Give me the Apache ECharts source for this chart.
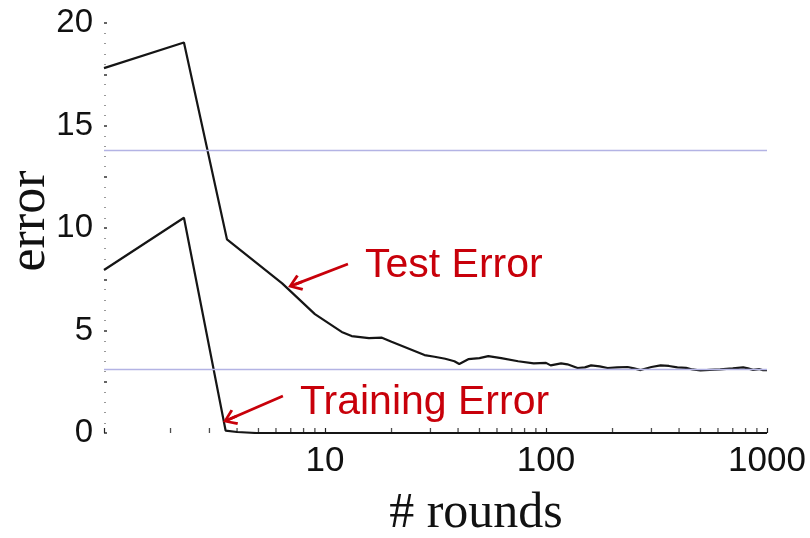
<!DOCTYPE html>
<html>
<head>
<meta charset="utf-8">
<script src="https://cdn.jsdelivr.net/npm/echarts@6/dist/echarts.min.js"></script>
<style>
html,body{margin:0;padding:0;background:#fff;}
#chart{width:810px;height:538px;}
</style>
</head>
<body>
<div id="chart"></div>
<script>
// ---- data ----
const testRounds = [1, 2.3, 3.6, 6.4, 9.0, 11.9, 13.2, 15.8, 18.1, 20, 28.2, 31.3, 35, 38.5, 40.5, 44.5, 50, 54.8, 62.7, 74.8, 88, 100, 105, 117, 125, 139, 150, 160, 175, 190, 210, 234, 250, 268, 300, 330, 360, 393, 430, 460, 500, 550, 614, 700, 780, 820, 865, 920, 960, 1000];
const testError  = [17.8, 19.05, 9.45, 7.3, 5.8, 4.93, 4.73, 4.63, 4.65, 4.45, 3.8, 3.72, 3.62, 3.5, 3.37, 3.6, 3.65, 3.75, 3.65, 3.5, 3.4, 3.42, 3.3, 3.4, 3.35, 3.17, 3.2, 3.3, 3.25, 3.17, 3.2, 3.22, 3.15, 3.07, 3.22, 3.3, 3.27, 3.2, 3.18, 3.1, 3.05, 3.08, 3.1, 3.15, 3.2, 3.15, 3.08, 3.12, 3.06, 3.07];
const trainRounds = [1, 2.3, 3.55, 4.0, 4.9, 1000];
const trainError  = [7.95, 10.5, 0.12, 0.05, 0, 0];
const refLevels = [13.8, 3.12];
const xMinorTicks = [2,3,4,5,6,7,8,9,20,30,40,50,60,70,80,90,200,300,400,500,600,700,800,900];
const xTickLabels = [10, 100, 1000];
const yTickLabels = [0, 5, 10, 15, 20];
const annTest  = {label: 'Test Error', from: [12.7, 8.24], to: [7.32, 7.25]};
const annTrain = {label: 'Training Error', from: [6.45, 1.8], to: [3.71, 0.68]};

const red = '#c8000a';
const arrowHead = 'path://M5,0 L10,8 L8.7,9.2 L5.8,4.3 L5.8,10 L4.2,10 L4.2,4.3 L1.3,9.2 L0,8 Z';

const chart = echarts.init(document.getElementById('chart'), null, {renderer: 'canvas'});
const zip = (a, b) => a.map((v, i) => [v, b[i]]);

chart.setOption({
  animation: false,
  backgroundColor: '#fff',
  grid: {left: 104, right: 43, top: 23, bottom: 105, containLabel: false},
  xAxis: {
    type: 'log', logBase: 10, min: 1, max: 1000,
    axisLine: {show: false},
    axisTick: {show: true, inside: true, length: 5, lineStyle: {color: '#222', width: 1.2}},
    splitLine: {show: false},
    axisLabel: {
      margin: 11, color: '#111', fontSize: 35, fontFamily: 'Liberation Sans',
      formatter: v => xTickLabels.includes(Math.round(v)) ? String(Math.round(v)) : ''
    }
  },
  yAxis: {
    type: 'value', min: 0, max: 20, interval: 2.5,
    axisLine: {show: false},
    axisTick: {show: true, inside: true, length: 3, lineStyle: {color: '#333', width: 1.5}},
    minorTick: {show: true, splitNumber: 5, length: 2, lineStyle: {color: '#999', width: 1.2}},
    splitLine: {show: false},
    axisLabel: {
      margin: 11, color: '#111', fontSize: 33, fontFamily: 'Liberation Sans',
      formatter: v => yTickLabels.includes(v) ? String(v) : ''
    }
  },
  series: [
    {
      name: 'reference levels', type: 'line', data: [], z: 1, silent: true,
      markLine: {
        silent: true, symbol: 'none', label: {show: false}, animation: false,
        lineStyle: {color: '#b3b3e4', type: 'solid', width: 1.3},
        data: refLevels.map(v => ({yAxis: v}))
      }
    },
    {
      name: 'x minor ticks', type: 'scatter', z: 2, silent: true,
      symbol: 'rect', symbolSize: [1.3, 5], symbolOffset: [0, -2.5],
      itemStyle: {color: '#222'},
      data: xMinorTicks.map(v => [v, 0])
    },
    {
      name: 'Test Error', type: 'line', z: 3, symbol: 'none', smooth: false,
      lineStyle: {color: '#151515', width: 2.2},
      data: zip(testRounds, testError)
    },
    {
      name: 'Training Error', type: 'line', z: 3, symbol: 'none', smooth: false,
      lineStyle: {color: '#151515', width: 2.2},
      data: zip(trainRounds, trainError)
    },
    {
      name: 'annotations', type: 'line', data: [], z: 4, silent: true,
      markLine: {
        silent: true, animation: false,
        symbol: ['none', arrowHead], symbolSize: [17, 15],
        label: {show: false},
        lineStyle: {color: red, type: 'solid', width: 2.7},
        data: [annTest, annTrain].map(a => [{coord: a.from}, {coord: a.to}])
      }
    }
  ],
  graphic: [
    {type: 'text', x: 365, y: 266, style: {text: annTest.label, fill: red, font: '41px "Liberation Sans"', verticalAlign: 'middle'}},
    {type: 'text', x: 300, y: 403, style: {text: annTrain.label, fill: red, font: '41px "Liberation Sans"', verticalAlign: 'middle'}},
    {type: 'text', x: 30, y: 221, rotation: Math.PI / 2, style: {text: 'error', fill: '#111', font: '52px "Liberation Serif"', align: 'center', verticalAlign: 'middle'}},
    {type: 'text', x: 476, y: 514, style: {text: '# rounds', fill: '#111', font: '50px "Liberation Serif"', align: 'center', verticalAlign: 'middle'}}
  ]
});
</script>
</body>
</html>
